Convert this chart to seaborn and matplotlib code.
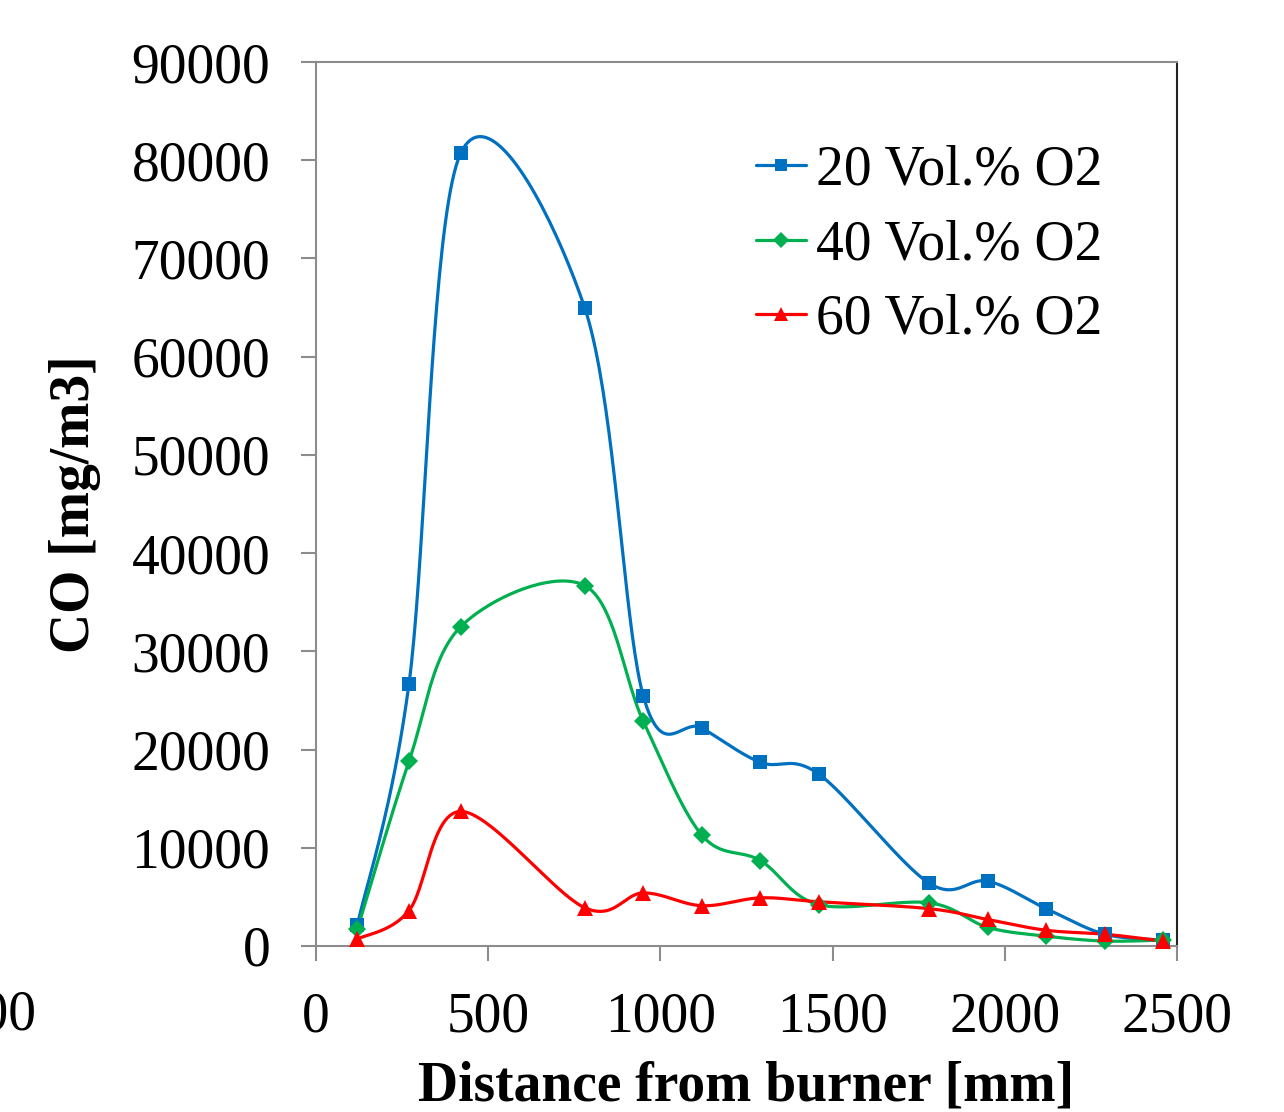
import numpy as np
import pandas as pd
import seaborn as sns
import matplotlib.pyplot as plt
from matplotlib.lines import Line2D

sns.set_style('white')
plt.rcParams['font.family'] = ['Liberation Serif', 'DejaVu Serif']
plt.rcParams['text.color'] = 'black'
plt.rcParams['xtick.labelcolor'] = 'black'
plt.rcParams['ytick.labelcolor'] = 'black'
plt.rcParams['axes.labelcolor'] = 'black'

# distance from burner [mm]
distance = [120, 270, 420, 780, 950, 1120, 1290, 1460, 1780, 1950, 2120, 2290, 2460]
# CO [mg/m3]
co_20 = [2100, 26700, 80700, 65000, 25500, 22200, 18700, 17500, 6400, 6600, 3800, 1200, 600]
co_40 = [1700, 18800, 32500, 36700, 22900, 11300, 8700, 4200, 4400, 1900, 1000, 500, 600]
co_60 = [700, 3600, 13700, 3900, 5400, 4100, 4900, 4500, 3800, 2700, 1600, 1200, 500]

labels = ['20 Vol.% O2', '40 Vol.% O2', '60 Vol.% O2']
colors = ['#0070C0', '#00B050', '#FF0000']
markers = ['s', 'D', '^']
msizes = [10, 9, 11]


def smooth(x, y, sx=0.3444, sy=0.009822, n=40):
    # Excel-like smoothed line (Catmull-Rom in screen space)
    p = np.column_stack([np.asarray(x, float) * sx, np.asarray(y, float) * sy])
    p = np.vstack([p[0], p, p[-1]])
    out = []
    t = np.linspace(0, 1, n)[:, None]
    for i in range(1, len(p) - 2):
        p0, p1, p2, p3 = p[i - 1], p[i], p[i + 1], p[i + 2]
        c1 = p1 + (p2 - p0) / 6
        c2 = p2 - (p3 - p1) / 6
        seg = ((1 - t) ** 3) * p1 + 3 * ((1 - t) ** 2) * t * c1 + 3 * (1 - t) * t ** 2 * c2 + t ** 3 * p2
        out.append(seg if i == 1 else seg[1:])
    out = np.vstack(out)
    return out[:, 0] / sx, out[:, 1] / sy


fig = plt.figure(figsize=(12.84, 11.12), dpi=100)
ax = fig.add_axes([0.2461, 0.1493, 0.6706, 0.7949])

for ys, lab, c, m, ms in zip([co_20, co_40, co_60], labels, colors, markers, msizes):
    sx_, sy_ = smooth(distance, ys)
    curve = pd.DataFrame({'x': sx_, 'y': sy_})
    sns.lineplot(data=curve, x='x', y='y', sort=False, color=c, linewidth=2.3, ax=ax,
                 estimator=None)
    ax.plot(distance, ys, linestyle='none', marker=m, markersize=ms, color=c,
            markeredgewidth=0, clip_on=False, zorder=3)

ax.set_xlim(0, 2500)
ax.set_ylim(0, 90000)
ax.set_xticks(range(0, 2501, 500))
ax.set_yticks(range(0, 90001, 10000))
ax.tick_params(axis='both', labelsize=40, length=11, width=1.5, color='#8c8c8c',
               direction='out', left=True, bottom=True)
ax.tick_params(axis='y', pad=22)
ax.tick_params(axis='x', pad=22)
for side in ['left', 'bottom', 'top']:
    ax.spines[side].set_color('#8c8c8c')
    ax.spines[side].set_linewidth(1.5)
ax.spines['right'].set_color('#222222')
ax.spines['right'].set_linewidth(1.5)

ax.set_xlabel('Distance from burner [mm]', fontsize=40, fontweight='bold', labelpad=12)
ax.set_ylabel('CO [mg/m3]', fontsize=40, fontweight='bold', labelpad=22)

handles = [Line2D([], [], color=c, marker=m, markersize=ms * 0.9, linewidth=2.3,
                  markeredgewidth=0) for c, m, ms in zip(colors, markers, msizes)]
ax.legend(handles, labels, loc='upper left', bbox_to_anchor=(0.485, 0.932), frameon=False,
          fontsize=40, handlelength=0.9, handletextpad=0.18, labelspacing=0.41,
          borderaxespad=0)

# clipped tick label from a neighbouring panel
fig.text(37 / 1284, 1 - 1030 / 1112, '2500', fontsize=40, ha='right', va='baseline')

fig.savefig('out.png', dpi=100)
